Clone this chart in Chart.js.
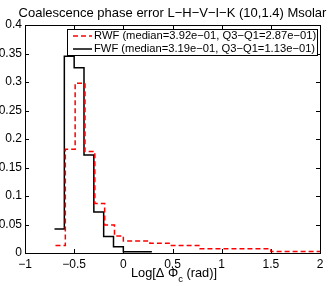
<!DOCTYPE html>
<html>
<head>
<meta charset="utf-8">
<script src="https://cdn.jsdelivr.net/npm/chart.js@4.4.1/dist/chart.umd.min.js"></script>
<style>
  html, body { margin: 0; padding: 0; background: #fff; }
</style>
</head>
<body>
<canvas id="chart" width="332" height="286"></canvas>
<script>
const titleText = 'Coalescence phase error L\u2212H\u2212V\u2212I\u2212K (10,1.4) Msolar'
const seriesLabels = [
    'RWF (median=3.92e\u221201, Q3\u2212Q1=2.87e\u221201)',
    'FWF (median=3.19e\u221201, Q3\u2212Q1=1.13e\u221201)'
]

// bin edges (left edge of each step) and heights
const rwfEdges  = [-0.69, -0.59, -0.49, -0.39, -0.29, -0.19, -0.09, 0, 0.27, 0.48, 0.78, 1.5, 2]
const rwfValues = [0.013, 0.182, 0.298, 0.178, 0.087, 0.049, 0.030, 0.021, 0.017, 0.013, 0.0075, 0.0025, 0.0025]
const fwfEdges  = [-0.7, -0.6, -0.5, -0.4, -0.3, -0.2, -0.1, 0, 0.29]
const fwfValues = [0.042, 0.345, 0.325, 0.172, 0.072, 0.029, 0.011, 0.002, 0.002]

const xTicks = [-1, -0.5, 0, 0.5, 1, 1.5, 2]
const yTicks = [0, 0.05, 0.1, 0.15, 0.2, 0.25, 0.3, 0.35, 0.4]

const FONT = 'Liberation Sans'
const minus = v => String(v).replace('-', '\u2212')

function toPoints(edges, values){
    return edges.map((x, i) => ({ x: x, y: values[i] }))
}

// MATLAB-like box, inward ticks, title, xlabel and legend
const matlabAxes = {
    id: 'matlabAxes',
    afterDatasetsDraw(chart){
        const ctx = chart.ctx
        const a = chart.chartArea
        const xs = chart.scales.x
        const ys = chart.scales.y
        ctx.save()
        ctx.strokeStyle = '#000'
        ctx.lineWidth = 1
        ctx.strokeRect(Math.round(a.left) + 0.5, Math.round(a.top) + 0.5,
            Math.round(a.right - a.left), Math.round(a.bottom - a.top))

        ctx.beginPath()
        xTicks.forEach(v => {
            const px = Math.round(xs.getPixelForValue(v)) + 0.5
            ctx.moveTo(px, a.bottom); ctx.lineTo(px, a.bottom - 4)
            ctx.moveTo(px, a.top); ctx.lineTo(px, a.top + 4)
        })
        yTicks.forEach(v => {
            const py = Math.round(ys.getPixelForValue(v)) + 0.5
            ctx.moveTo(a.left, py); ctx.lineTo(a.left + 4, py)
            ctx.moveTo(a.right, py); ctx.lineTo(a.right - 4, py)
        })
        ctx.stroke()

        // title
        const cx = (a.left + a.right) / 2
        ctx.fillStyle = '#000'
        ctx.font = '13px "' + FONT + '"'
        ctx.textAlign = 'center'
        ctx.textBaseline = 'alphabetic'
        ctx.fillText(titleText, cx, 17)

        // x label with subscript
        const big = '12.8px "' + FONT + '"', small = '9.5px "' + FONT + '"'
        ctx.font = big
        const p1 = 'Log[\u0394 \u03A6', p2 = 'c', p3 = ' (rad)]'
        const w1 = ctx.measureText(p1).width
        const w3 = ctx.measureText(p3).width
        ctx.font = small
        const w2 = ctx.measureText(p2).width
        let x0 = cx + 1.5 - (w1 + w2 + w3) / 2
        ctx.textAlign = 'left'
        ctx.font = big
        ctx.fillText(p1, x0, 276.5)
        ctx.font = small
        ctx.fillText(p2, x0 + w1, 282)
        ctx.font = big
        ctx.fillText(p3, x0 + w1 + w2, 276.5)

        // legend
        const lx = 67.5, ly = 29.5, lw = 250, lh = 26
        ctx.fillStyle = '#fff'
        ctx.fillRect(lx, ly, lw, lh)
        ctx.strokeStyle = '#000'
        ctx.strokeRect(lx, ly, lw, lh)
        ctx.font = '11.2px "' + FONT + '"'
        ctx.textBaseline = 'middle'
        chart.data.datasets.forEach((ds, i) => {
            const y = ly + 6.5 + i * 13
            ctx.strokeStyle = ds.borderColor
            ctx.lineWidth = ds.borderWidth
            ctx.setLineDash(ds.borderDash || [])
            ctx.beginPath()
            ctx.moveTo(73, y); ctx.lineTo(92, y)
            ctx.stroke()
            ctx.setLineDash([])
            ctx.fillStyle = '#000'
            ctx.fillText(ds.label, 94, y)
        })
        ctx.restore()
    }
}

const ctx = document.getElementById('chart').getContext('2d')

new Chart(ctx, {
    type: 'line',
    data: {
        datasets: [{
            label: seriesLabels[0],
            data: toPoints(rwfEdges, rwfValues),
            borderColor: '#ff0000',
            borderDash: [5, 3],
            borderWidth: 1.5,
            stepped: true,
            pointRadius: 0,
            fill: false
        }, {
            label: seriesLabels[1],
            data: toPoints(fwfEdges, fwfValues),
            borderColor: '#000000',
            borderWidth: 1.5,
            stepped: true,
            pointRadius: 0,
            fill: false
        }]
    },
    options: {
        responsive: false,
        animation: false,
        devicePixelRatio: 1,
        layout: { padding: { top: 25, right: 12, left: 0, bottom: 0 } },
        plugins: { legend: { display: false }, tooltip: { enabled: false } },
        scales: {
            x: {
                type: 'linear',
                min: -1,
                max: 2,
                afterBuildTicks: s => { s.ticks = xTicks.map(v => ({ value: v })) },
                afterFit: s => { s.height = 33 },
                grid: { display: false, drawTicks: false },
                border: { display: false },
                ticks: {
                    padding: 4,
                    color: '#000',
                    font: { family: FONT, size: 12 },
                    maxRotation: 0,
                    callback: v => minus(v)
                }
            },
            y: {
                type: 'linear',
                min: 0,
                max: 0.4,
                afterBuildTicks: s => { s.ticks = yTicks.map(v => ({ value: v })) },
                afterFit: s => { s.width = 25 },
                grid: { display: false, drawTicks: false },
                border: { display: false },
                ticks: {
                    padding: 3,
                    color: '#000',
                    font: { family: FONT, size: 12 },
                    callback: v => minus(v)
                }
            }
        }
    },
    plugins: [matlabAxes]
})
</script>
</body>
</html>
